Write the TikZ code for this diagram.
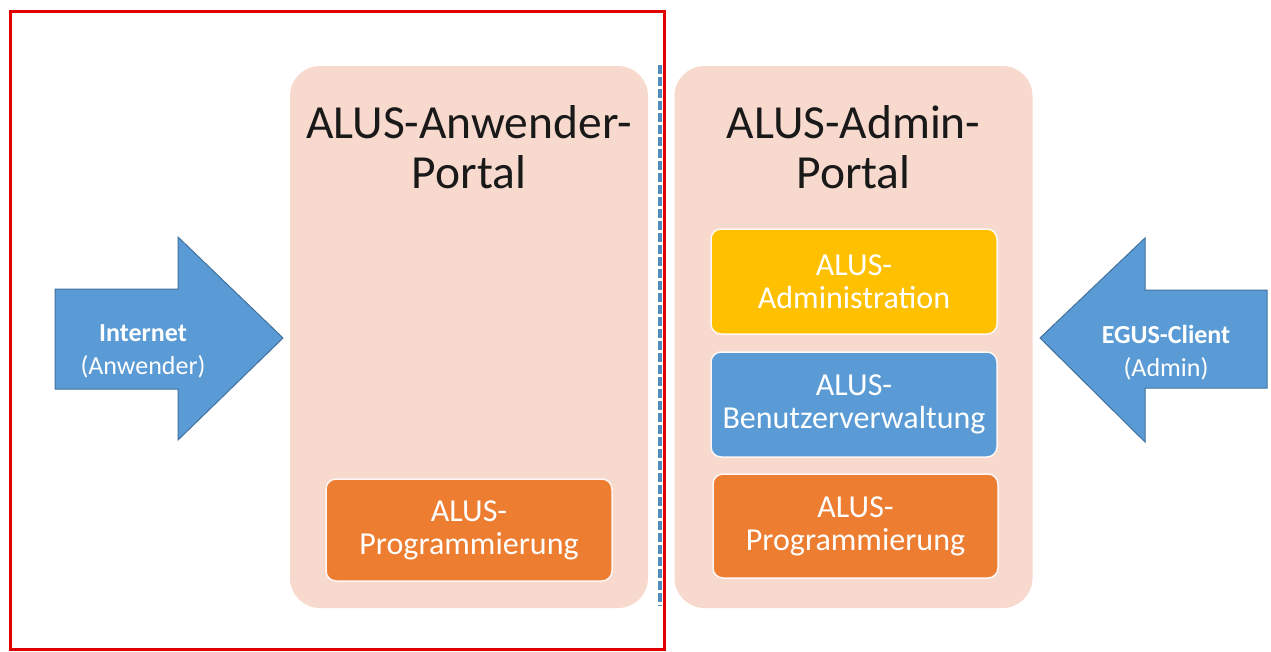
\documentclass[tikz,border=0pt]{standalone}
\usepackage{fontspec}
\setmainfont{Carlito}
\definecolor{panel}{HTML}{F8D9CD}
\definecolor{aorange}{HTML}{ED7D31}
\definecolor{ayellow}{HTML}{FFC000}
\definecolor{ablue}{HTML}{5B9BD5}
\definecolor{ablueline}{HTML}{41719C}
\definecolor{ared}{HTML}{E00000}
\begin{document}
\begin{tikzpicture}[x=1pt,y=-1pt,
  panelbox/.style={fill=panel,draw=none,rounded corners=30pt,minimum width=358pt,minimum height=542pt,inner sep=0pt},
  titletext/.style={font=\fontsize{47.5}{50}\selectfont,text=black!90,align=center,inner sep=0pt},
  innerbox/.style={rounded corners=10pt,draw=white!80!panel,line width=1.5pt,minimum width=286pt,minimum height=104pt,inner sep=0pt,text=white,align=center,font=\fontsize{32}{33}\selectfont},
  arrowshape/.style={fill=ablue,draw=ablueline,line width=1pt,line join=miter},
  arrowtext/.style={text=white,align=center,font=\fontsize{26}{33}\selectfont,inner sep=0pt}]
\useasboundingbox (0,0) rectangle (1271,651);
\fill[white] (0,0) rectangle (1271,651);
% panels
\node[panelbox] (lp) at (469,337) {};
\node[panelbox] (rp) at (853.5,337) {};
\node[titletext] (lt) at (469,147) {ALUS-Anwender-\\Portal};
\node[titletext] (rt) at (853.5,147) {ALUS-Admin-\\Portal};
% inner boxes
\node[innerbox,fill=aorange,minimum height=102pt] (lprog) at (469,530) {ALUS-\\Programmierung};
\node[innerbox,fill=ayellow,minimum height=105pt] (radm) at (854,281.5) {ALUS-\\Administration};
\node[innerbox,fill=ablue,minimum height=105pt] (rben) at (854,404.5) {ALUS-\\Benutzerverwaltung};
\node[innerbox,fill=aorange,minimum width=285pt] (rprog) at (855.5,526) {ALUS-\\Programmierung};
% arrows
\draw[arrowshape] (55,289) -- (178,289) -- (178,237) -- (283,338) -- (178,440) -- (178,389) -- (55,389) -- cycle;
\node[arrowtext] (lin) at (143,351) {\textbf{Internet}\\(Anwender)};
\draw[arrowshape] (1267,290) -- (1145,290) -- (1145,238) -- (1040,338) -- (1145,442) -- (1145,388) -- (1267,388) -- cycle;
\node[arrowtext] (rin) at (1166,353) {\textbf{EGUS-Client}\\(Admin)};
% dashed separator
\coordinate (dtop) at (659.5,65);
\coordinate (dbot) at (659.5,606);
\draw[ablue!90!black,line width=4pt,dash pattern=on 9pt off 3pt] (dtop) -- (dbot);
% red frame
\draw[ared,line width=3pt] (10,11) rectangle (664,649);
\end{tikzpicture}
\end{document}
